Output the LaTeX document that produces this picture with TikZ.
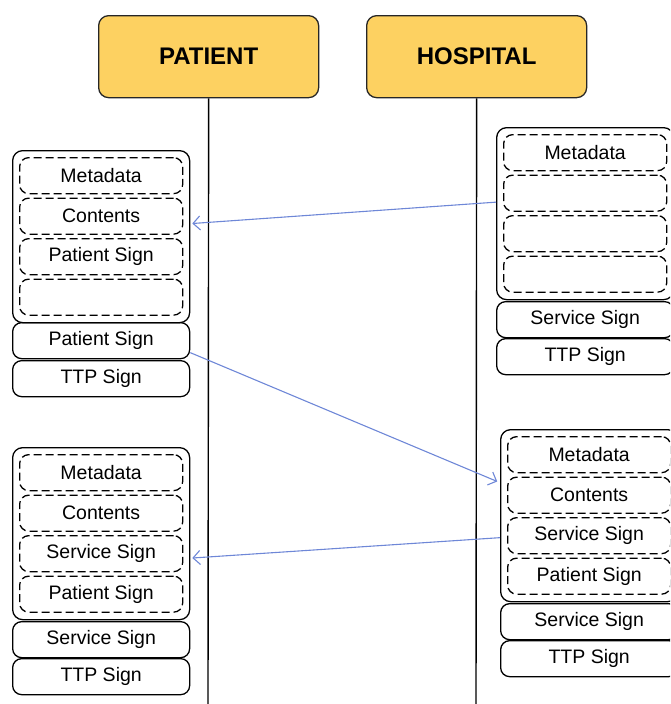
\documentclass[tikz,border=0pt]{standalone}
\usepackage{fontspec}
\setmainfont{Liberation Sans}
\usepackage{tikz}
\usetikzlibrary{arrows.meta}
\definecolor{headyellow}{RGB}{253,209,97}
\definecolor{msgblue}{RGB}{110,135,215}
\tikzset{header/.style={draw=black!85,fill=headyellow,rounded corners=10pt,line width=1.3pt,
                        minimum width=220pt,minimum height=82pt,anchor=north west,
                        font=\fontsize{24}{28}\selectfont\bfseries}}
\tikzset{packet/.style={draw,rounded corners=10pt,line width=1.3pt,inner sep=0pt,
                        minimum width=177pt,minimum height=172pt,anchor=north west}}
\tikzset{field/.style={draw,dash pattern=on 8pt off 4pt,rounded corners=9pt,line width=1.3pt,
                       inner sep=0pt,minimum width=163pt,minimum height=36pt,anchor=north west,
                       font=\fontsize{19.5}{22}\selectfont}}
\tikzset{sig/.style={draw,rounded corners=9pt,line width=1.3pt,inner sep=0pt,
                     minimum width=177pt,minimum height=36pt,anchor=north west,
                     font=\fontsize{19.5}{22}\selectfont}}
\tikzset{msg/.style={draw=msgblue,line width=1.1pt,-{Straight Barb[length=7pt,width=14pt]}}}
\def\rowstep{40.5}

\begin{document}
\begin{tikzpicture}[x=1pt,y=-1pt]
    \clip (0,0) rectangle (670,704);

    % actors and lifelines
    \node[header] (patient) at (98,15) {PATIENT};
    \node[header] (hospital) at (366,15) {HOSPITAL};
    \coordinate (pEnd) at (208,704);
    \coordinate (hEnd) at (476,704);
    \draw[line width=1.4pt] (patient.south) -- (pEnd);
    \draw[line width=1.4pt] (hospital.south) -- (hEnd);

    % patient, first message
    \node[packet] (pMsgA) at (12,150) {};
    \foreach \f [count=\i] in {Metadata,Contents,Patient Sign,{}}{%
          \node[field] (pMsgA\i) at (19,{157+(\i-1)*\rowstep}) {\f};
    }
    \node[sig] (pMsgAs) at (12,322) {Patient Sign};
    \node[sig] (pMsgAt) at (12,360) {TTP Sign};

    % hospital, first message
    \node[packet] (hMsgA) at (496,127) {};
    \foreach \f [count=\i] in {Metadata,{},{},{}}{%
          \node[field] (hMsgA\i) at (503,{134+(\i-1)*\rowstep}) {\f};
    }
    \node[sig] (hMsgAs) at (496,301) {Service Sign};
    \node[sig] (hMsgAt) at (496,338) {TTP Sign};

    % patient, second message
    \node[packet] (pMsgB) at (12,447) {};
    \foreach \f [count=\i] in {Metadata,Contents,Service Sign,Patient Sign}{%
          \node[field] (pMsgB\i) at (19,{454+(\i-1)*\rowstep}) {\f};
    }
    \node[sig] (pMsgBs) at (12,621) {Service Sign};
    \node[sig] (pMsgBt) at (12,658) {TTP Sign};

    % hospital, second message
    \node[packet] (hMsgB) at (500,429) {};
    \foreach \f [count=\i] in {Metadata,Contents,Service Sign,Patient Sign}{%
          \node[field] (hMsgB\i) at (507,{436+(\i-1)*\rowstep}) {\f};
    }
    \node[sig] (hMsgBs) at (500,603) {Service Sign};
    \node[sig] (hMsgBt) at (500,640) {TTP Sign};

    % messages
    \draw[msg,shorten >=2pt] ([yshift=11.5pt]hMsgA.west) -- ([yshift=13pt]pMsgA.east);
    \draw[msg,shorten >=3pt] ([yshift=-12pt]pMsgAs.east) -- ([yshift=33pt]hMsgB.west);
    \draw[msg,shorten >=2pt] ([yshift=-22pt]hMsgB.west) -- ([yshift=-24.5pt]pMsgB.east);
\end{tikzpicture}
\end{document}
